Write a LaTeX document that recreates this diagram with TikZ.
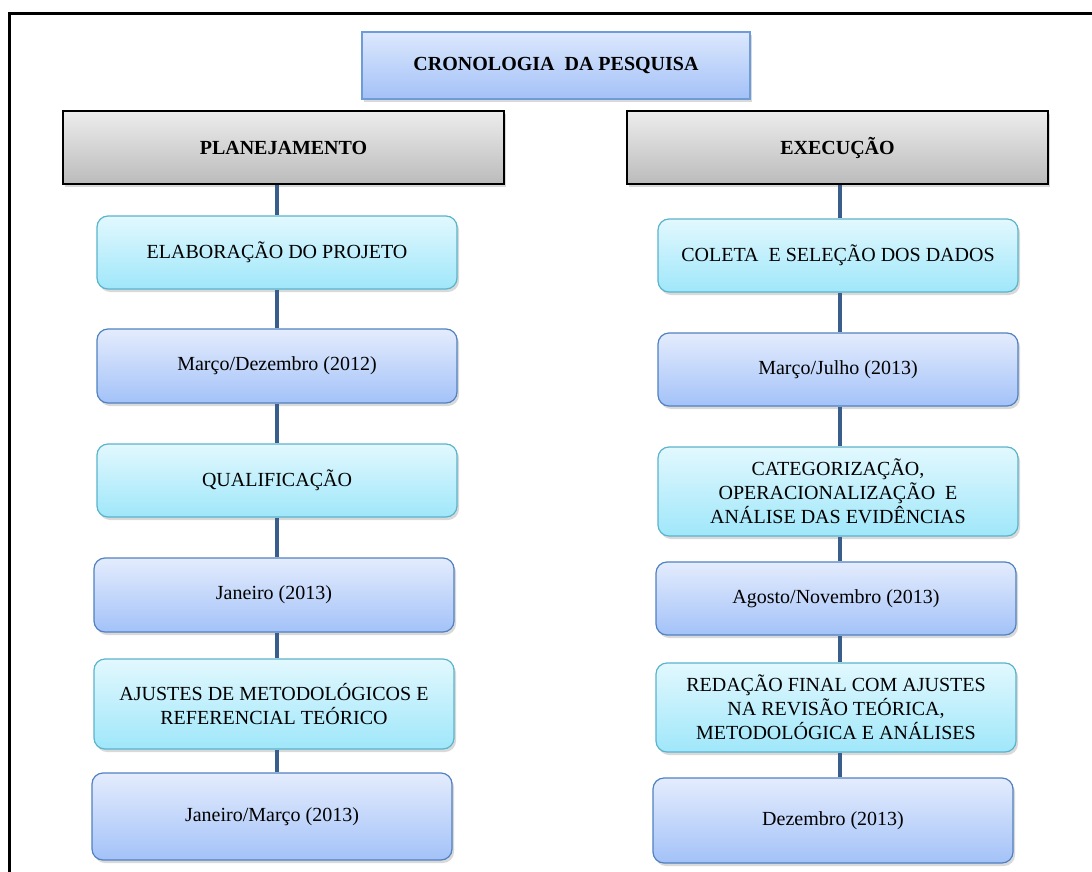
\documentclass[tikz,border=0pt]{standalone}
\usepackage{fontspec}
\setmainfont{Liberation Serif}
\usetikzlibrary{shadows}
\definecolor{cyantop}{HTML}{E2F8FE}
\definecolor{cyanbot}{HTML}{9FE7FA}
\definecolor{cyanline}{HTML}{5AB4CC}
\definecolor{lavtop}{HTML}{E4ECFD}
\definecolor{lavbot}{HTML}{A3C2F8}
\definecolor{lavline}{HTML}{5081C0}
\definecolor{titletop}{HTML}{DCE8FD}
\definecolor{titlebot}{HTML}{A3C1F7}
\definecolor{titleline}{HTML}{6F9BD6}
\definecolor{graytop}{HTML}{EDEDED}
\definecolor{graybot}{HTML}{BBBBBB}
\definecolor{spinecol}{HTML}{3A5E8C}
\begin{document}
\begin{tikzpicture}[x=1pt,y=-1pt,
  base/.style={draw, line width=1.2pt, align=center, inner sep=0pt,
    font=\fontsize{20}{24}\selectfont,
    drop shadow={shadow xshift=2pt,shadow yshift=-3pt,opacity=0.3}},
  titlebox/.style={base, draw=titleline, top color=titletop, bottom color=titlebot,
    minimum width=388pt, minimum height=67pt, font=\fontsize{20}{24}\selectfont\bfseries},
  headbox/.style={base, draw=black, line width=1.5pt, top color=graytop, bottom color=graybot,
    minimum height=73pt, font=\fontsize{20}{24}\selectfont\bfseries},
  cyanbox/.style={base, draw=cyanline, rounded corners=11pt, top color=cyantop, bottom color=cyanbot,
    minimum width=360pt},
  lavbox/.style={base, draw=lavline, rounded corners=11pt, top color=lavtop, bottom color=lavbot,
    minimum width=360pt},
  conn/.style={draw=spinecol, line width=4pt}
]
\useasboundingbox (0,0) rectangle (1092,872);
\draw[line width=3pt, line join=miter] (9.3,872) -- (9.3,13.3) -- (1092,13.3);

\coordinate (ls) at (277,0);
\coordinate (rs) at (839.5,0);

\node[titlebox] (T) at (556,65.5) {CRONOLOGIA\ \ DA PESQUISA};
\node[headbox, minimum width=441pt] (P) at (283.5,147.5) {PLANEJAMENTO};
\node[headbox, minimum width=421pt] (E) at (837.5,147.5) {EXECUÇÃO};

\node[cyanbox, minimum height=73pt] (L1) at (277,252.5) {ELABORAÇÃO DO PROJETO};
\node[lavbox, minimum height=74pt] (L2) at (277,366) {Março/Dezembro (2012)};
\node[cyanbox, minimum height=73pt] (L3) at (277,480.5) {QUALIFICAÇÃO};
\node[lavbox, minimum height=74pt] (L4) at (274,595) {Janeiro (2013)};
\node[cyanbox, minimum height=90pt] (L5) at (274,704) {AJUSTES DE METODOLÓGICOS E\\REFERENCIAL TEÓRICO};
\node[lavbox, minimum height=87pt] (L6) at (272,816.5) {Janeiro/Março (2013)};

\node[cyanbox, minimum height=73pt] (R1) at (838,255.5) {COLETA\ \ E SELEÇÃO DOS DADOS};
\node[lavbox, minimum height=73pt] (R2) at (838,369.5) {Março/Julho (2013)};
\node[cyanbox, minimum height=89pt] (R3) at (838,491.5) {CATEGORIZAÇÃO,\\OPERACIONALIZAÇÃO\ \ E\\ANÁLISE DAS EVIDÊNCIAS};
\node[lavbox, minimum height=73pt] (R4) at (836,598.5) {Agosto/Novembro (2013)};
\node[cyanbox, minimum height=89pt] (R5) at (836,707.5) {REDAÇÃO FINAL COM AJUSTES\\NA REVISÃO TEÓRICA,\\METODOLÓGICA E ANÁLISES};
\node[lavbox, minimum height=85pt] (R6) at (833,820.5) {Dezembro (2013)};

\draw[conn] (P.south -| ls) -- (L1.north -| ls);
\draw[conn] (L1.south -| ls) -- (L2.north -| ls);
\draw[conn] (L2.south -| ls) -- (L3.north -| ls);
\draw[conn] (L3.south -| ls) -- (L4.north -| ls);
\draw[conn] (L4.south -| ls) -- (L5.north -| ls);
\draw[conn] (L5.south -| ls) -- (L6.north -| ls);

\draw[conn] (E.south -| rs) -- (R1.north -| rs);
\draw[conn] (R1.south -| rs) -- (R2.north -| rs);
\draw[conn] (R2.south -| rs) -- (R3.north -| rs);
\draw[conn] (R3.south -| rs) -- (R4.north -| rs);
\draw[conn] (R4.south -| rs) -- (R5.north -| rs);
\draw[conn] (R5.south -| rs) -- (R6.north -| rs);
\end{tikzpicture}
\end{document}
